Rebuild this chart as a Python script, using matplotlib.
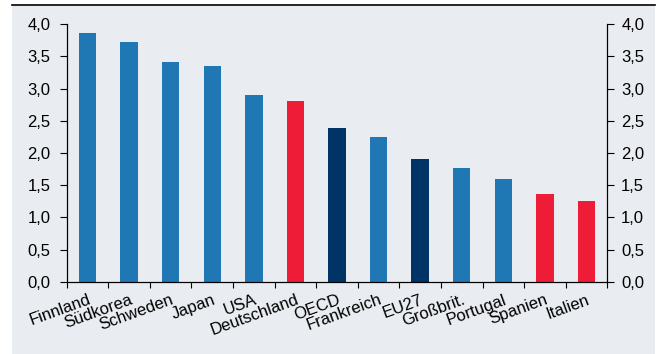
import matplotlib
matplotlib.use("Agg")
import matplotlib.pyplot as plt
from matplotlib.patches import Rectangle
from matplotlib.lines import Line2D
import numpy as np

categories = ["Finnland", "Südkorea", "Schweden", "Japan", "USA", "Deutschland",
              "OECD", "Frankreich", "EU27", "Großbrit.", "Portugal", "Spanien", "Italien"]
values = [3.86, 3.72, 3.41, 3.35, 2.90, 2.81, 2.39, 2.25, 1.91, 1.76, 1.59, 1.36, 1.25]
groups = ["land", "land", "land", "land", "land", "hl", "agg", "land", "agg", "land", "land", "hl", "hl"]
yticks = [0.0, 0.5, 1.0, 1.5, 2.0, 2.5, 3.0, 3.5, 4.0]
ytick_labels = ["0,0", "0,5", "1,0", "1,5", "2,0", "2,5", "3,0", "3,5", "4,0"]

color_map = {"land": "#1F78B4", "hl": "#EE1C36", "agg": "#003366"}
bg = "#E9ECF0"
FS = 12

plt.rcParams["font.family"] = ["Liberation Sans", "DejaVu Sans"]
plt.rcParams["font.size"] = FS

fig = plt.figure(figsize=(6.59, 3.54), dpi=100)
fig.patch.set_facecolor("white")
W, H = 659, 354
# grey panel and top rule
fig.patches.append(Rectangle((12 / W, 0), (655 - 12) / W, (354 - 6) / H,
                             transform=fig.transFigure, facecolor=bg, edgecolor="none", zorder=-10))
fig.lines.append(Line2D([12 / W, 655 / W], [1 - 5 / H, 1 - 5 / H],
                        transform=fig.transFigure, color="black", lw=1.2, zorder=-5))

ax = fig.add_axes([66.7 / W, 1 - 281.7 / H, (607.3 - 66.7) / W, (281.7 - 24.3) / H])
ax.set_facecolor(bg)
x = np.arange(len(categories))
ax.bar(x, values, width=0.42, color=[color_map[g] for g in groups], zorder=2)
ax.set_xlim(-0.5, len(categories) - 0.5)
ax.set_ylim(0, 4)
ax.set_yticks(yticks)
ax.set_yticklabels(ytick_labels, fontsize=FS)
ax.tick_params(axis="y", direction="out", length=5, width=0.8, pad=6.5, colors="black")

ax.set_xticks(x)
ax.set_xticklabels(categories, fontsize=FS)
ax.set_xticks(np.arange(len(categories) + 1) - 0.5, minor=True)
ax.tick_params(axis="x", which="major", length=0, pad=7.5)
ax.tick_params(axis="x", which="minor", length=4, width=0.8, direction="out")
for lbl in ax.get_xticklabels():
    lbl.set_rotation(20)
    lbl.set_ha("right")
    lbl.set_rotation_mode("anchor")

ax.spines["top"].set_visible(False)
for s in ["left", "right", "bottom"]:
    ax.spines[s].set_linewidth(0.8)

ax2 = ax.twinx()
ax2.set_ylim(0, 4)
ax2.set_yticks(yticks)
ax2.set_yticklabels(ytick_labels, fontsize=FS)
ax2.tick_params(axis="y", direction="out", length=5, width=0.8, pad=5)
ax2.spines["top"].set_visible(False)
ax2.spines["right"].set_linewidth(0.8)

fig.savefig("out.png", dpi=100)
